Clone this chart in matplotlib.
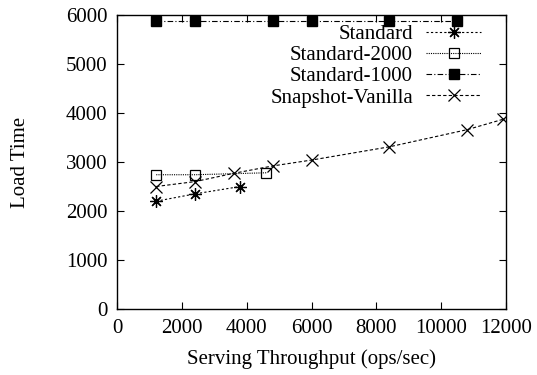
import matplotlib
matplotlib.use('Agg')
import matplotlib.pyplot as plt

plt.rcParams['font.family'] = ['Liberation Serif', 'DejaVu Serif']
plt.rcParams['font.size'] = 15

# data
std_x = [1200, 2400, 3800]
std_y = [2200, 2350, 2500]
std2000_x = [1200, 2400, 4600]
std2000_y = [2740, 2740, 2780]
std1000_x = [1200, 2400, 4800, 6000, 8400, 10500]
std1000_y = [5880, 5880, 5880, 5880, 5880, 5880]
snap_x = [1200, 2400, 3600, 4800, 6000, 8400, 10800, 11900]
snap_y = [2500, 2600, 2770, 2920, 3040, 3310, 3660, 3870]

fig = plt.figure(figsize=(5.37, 3.75), dpi=100)
ax = fig.add_axes([0.2185, 0.176, 0.7238, 0.784])

lw = 0.8
ax.plot(std_x, std_y, color='black', lw=lw, ls=(0, (2, 2)),
        marker=(8, 2, 0), ms=9, mew=0.9, label='Standard')
ax.plot(std2000_x, std2000_y, color='black', lw=lw, ls=(0, (1, 1)),
        marker='s', ms=7, mfc='none', mew=0.9, label='Standard-2000')
ax.plot(std1000_x, std1000_y, color='black', lw=lw, ls=(0, (5, 2, 1, 2)),
        marker='s', ms=7, mfc='black', label='Standard-1000')
ax.plot(snap_x, snap_y, color='black', lw=lw, ls=(0, (3, 2)),
        marker='x', ms=8, mew=0.9, label='Snapshot-Vanilla')

ax.set_xlim(0, 12000)
ax.set_ylim(0, 6000)
ax.set_xticks(range(0, 12001, 2000))
ax.set_yticks(range(0, 6001, 1000))
ax.tick_params(direction='in', top=True, right=True, length=5, width=0.8, pad=7)
for s in ax.spines.values():
    s.set_linewidth(1.0)

ax.set_xlabel('Serving Throughput (ops/sec)', labelpad=8)
ax.set_ylabel('Load Time', labelpad=26)

ax.legend(loc='upper right', bbox_to_anchor=(0.936, 0.968), frameon=False,
          markerfirst=False, handlelength=2.65, handletextpad=0.62,
          labelspacing=0.08, borderaxespad=0, borderpad=0, fontsize=15)

fig.savefig('out.png', dpi=100)
